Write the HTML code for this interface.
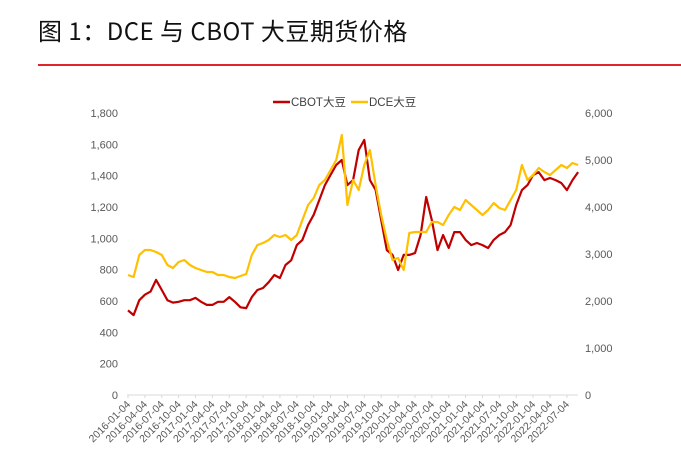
<!DOCTYPE html>
<html><head><meta charset="utf-8"><style>
body{margin:0;background:#fff;width:681px;height:465px;overflow:hidden;font-family:"Liberation Sans","Noto Sans CJK SC",sans-serif}
</style></head><body>
<div style="position:absolute;left:38px;top:12px;font-size:24px;color:#111;font-family:'Noto Sans CJK SC','WenQuanYi Zen Hei',sans-serif;letter-spacing:0.5px">图 1：DCE 与 CBOT 大豆期货价格</div>
<div style="position:absolute;left:38px;top:64px;width:643px;height:2px;background:#E0262A"></div>
<svg id="c" width="681" height="465" style="position:absolute;left:0;top:0"></svg>
<script>
const months=["2016-01-04","2016-04-04","2016-07-04","2016-10-04","2017-01-04","2017-04-04","2017-07-04","2017-10-04","2018-01-04","2018-04-04","2018-07-04","2018-10-04","2019-01-04","2019-04-04","2019-07-04","2019-10-04","2020-01-04","2020-04-04","2020-07-04","2020-10-04","2021-01-04","2021-04-04","2021-07-04","2021-10-04","2022-01-04","2022-04-04","2022-07-04"];
const leftTicks=[0,200,400,600,800,1000,1200,1400,1600,1800];
const rightTicks=[0,1000,2000,3000,4000,5000,6000];
const cbot=[540,510,605,640,660,735,670,605,590,595,605,605,620,595,575,575,595,595,625,595,560,555,625,670,683,720,766,747,830,860,957,990,1085,1150,1245,1340,1405,1468,1500,1340,1372,1564,1628,1372,1310,1117,925,894,798,894,894,906,1021,1264,1117,925,1021,938,1040,1040,990,957,970,957,938,990,1021,1040,1085,1213,1308,1340,1404,1423,1372,1385,1372,1353,1308,1372,1423];
const dce=[2553,2510,2979,3085,3085,3043,2979,2766,2702,2830,2872,2766,2702,2660,2617,2617,2553,2553,2510,2489,2532,2574,2979,3191,3234,3298,3404,3362,3404,3298,3404,3723,4043,4191,4468,4574,4787,5000,5532,4043,4574,4362,4894,5213,4468,3830,3298,2872,2915,2660,3447,3468,3468,3468,3681,3681,3617,3830,4000,3936,4149,4043,3936,3830,3936,4085,3979,3936,4149,4362,4894,4574,4681,4830,4745,4681,4787,4894,4830,4936,4894];
const svg=document.getElementById('c');const NS='http://www.w3.org/2000/svg';
const x0=128,dx=16.88/3,y0=395,H=282;
const xm=i=>x0+i*dx, yl=v=>y0-v/1800*H, yr=v=>y0-v/6000*H;
function mk(t,a,txt){const e=document.createElementNS(NS,t);for(const k in a)e.setAttribute(k,a[k]);if(txt!=null)e.textContent=txt;svg.appendChild(e);return e;}
let e=mk('line',{x1:127,x2:578,y1:y0,y2:y0,stroke:'#d9d9d9','stroke-width':1});


leftTicks.forEach(v=>{const t=mk('text',{x:118,y:yl(v)+4,'text-anchor':'end','font-size':11,fill:'#595959'},v.toLocaleString('en-US'));

});
rightTicks.forEach(v=>{const t=mk('text',{x:585,y:yr(v)+4,'font-size':11,fill:'#595959'},v.toLocaleString('en-US'));

});
months.forEach((m,i)=>{const x=xm(i*3);
const tk=mk('line',{x1:x,x2:x,y1:y0,y2:y0+3,stroke:'#d9d9d9'});


const t=mk('text',{x:x+3,y:y0+10,'text-anchor':'end','font-size':10.5,fill:'#595959',transform:`rotate(-45 ${x+3} ${y0+10})`},m);

});
function line(arr,f,col,name){const p=mk('path',{d:arr.map((v,i)=>(i?'L':'M')+xm(i).toFixed(1)+','+f(v).toFixed(1)).join(''),fill:'none',stroke:col,'stroke-width':2.2,'stroke-linejoin':'round'});

}
line(cbot,yl,'#C00000','cbot-line');
line(dce,yr,'#FFC000','dce-line');
const lg=[[273,'#C00000','CBOT大豆'],[351,'#FFC000','DCE大豆']];
lg.forEach(([x,c,t])=>{const l=mk('line',{x1:x,x2:x+17,y1:102,y2:102,stroke:c,'stroke-width':2.5});


const tx=mk('text',{x:x+18,y:106,'font-size':11.5,fill:'#404040'},t);

});
</script>
</body></html>
